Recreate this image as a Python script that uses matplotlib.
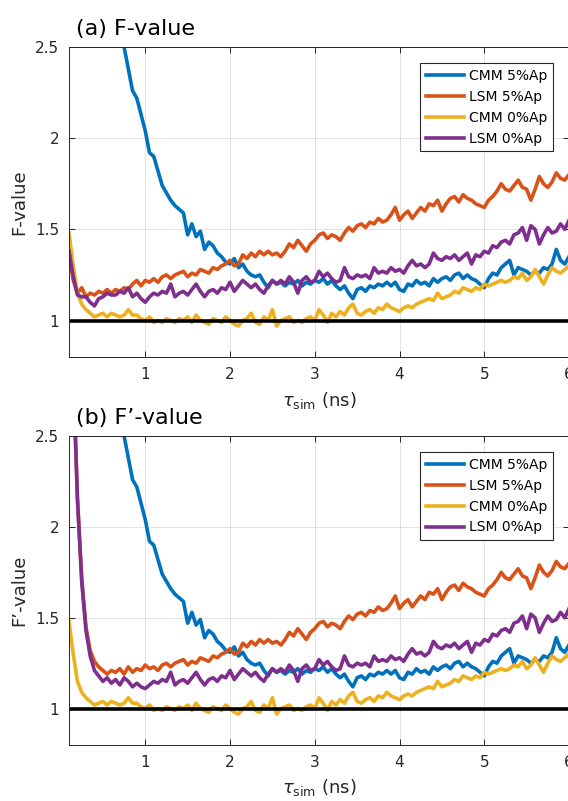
import numpy as np
import matplotlib
matplotlib.use('Agg')
import matplotlib.pyplot as plt

# tau_sim grid (ns), 0.10 ... 6.00 step 0.05
tau = np.round(np.arange(0.10, 6.001, 0.05), 2)

# F-value curves (10 values per row)
cmm5 = [6.0, 5.5, 5.0, 4.6, 4.2, 3.9, 3.6, 3.4, 3.2, 3.0,
        2.85, 2.72, 2.60, 2.50, 2.38, 2.26, 2.22, 2.13, 2.04, 1.92,
        1.90, 1.82, 1.74, 1.70, 1.66, 1.63, 1.61, 1.59, 1.47, 1.53,
        1.46, 1.49, 1.39, 1.43, 1.41, 1.37, 1.35, 1.32, 1.31, 1.34,
        1.29, 1.31, 1.27, 1.25, 1.24, 1.25, 1.21, 1.18, 1.22, 1.20,
        1.21, 1.19, 1.21, 1.20, 1.22, 1.19, 1.21, 1.20, 1.22, 1.21,
        1.23, 1.20, 1.22, 1.19, 1.17, 1.19, 1.15, 1.12, 1.17, 1.18,
        1.16, 1.19, 1.18, 1.20, 1.19, 1.21, 1.19, 1.21, 1.17, 1.16,
        1.20, 1.19, 1.22, 1.20, 1.21, 1.19, 1.23, 1.21, 1.23, 1.24,
        1.22, 1.25, 1.26, 1.23, 1.25, 1.23, 1.22, 1.20, 1.18, 1.23,
        1.26, 1.25, 1.29, 1.31, 1.33, 1.25, 1.29, 1.28, 1.27, 1.25,
        1.27, 1.26, 1.29, 1.28, 1.31, 1.39, 1.33, 1.31, 1.35]

lsm5 = [1.37, 1.22, 1.15, 1.18, 1.13, 1.15, 1.14, 1.16, 1.15, 1.17,
        1.15, 1.17, 1.16, 1.18, 1.17, 1.20, 1.22, 1.19, 1.22, 1.21,
        1.23, 1.21, 1.24, 1.25, 1.23, 1.25, 1.26, 1.27, 1.24, 1.26,
        1.25, 1.28, 1.27, 1.26, 1.29, 1.28, 1.30, 1.31, 1.33, 1.30,
        1.31, 1.36, 1.34, 1.37, 1.35, 1.38, 1.36, 1.38, 1.36, 1.37,
        1.35, 1.38, 1.42, 1.40, 1.44, 1.41, 1.38, 1.42, 1.44, 1.47,
        1.48, 1.45, 1.47, 1.46, 1.44, 1.48, 1.51, 1.49, 1.52, 1.53,
        1.51, 1.54, 1.53, 1.56, 1.54, 1.55, 1.58, 1.62, 1.55, 1.58,
        1.60, 1.56, 1.59, 1.62, 1.60, 1.64, 1.63, 1.66, 1.60, 1.64,
        1.67, 1.68, 1.65, 1.69, 1.67, 1.66, 1.64, 1.63, 1.62, 1.66,
        1.68, 1.71, 1.75, 1.72, 1.71, 1.74, 1.77, 1.73, 1.72, 1.66,
        1.72, 1.79, 1.75, 1.73, 1.76, 1.81, 1.78, 1.77, 1.80]

cmm0 = [1.48, 1.30, 1.15, 1.09, 1.06, 1.04, 1.02, 1.03, 1.04, 1.02,
        1.04, 1.03, 1.02, 1.03, 1.06, 1.03, 1.03, 1.01, 1.00, 1.02,
        0.99, 1.00, 0.99, 1.01, 1.00, 0.99, 1.01, 1.00, 1.02, 0.99,
        1.03, 1.00, 0.99, 0.98, 1.01, 1.00, 0.99, 1.02, 1.00, 0.98,
        0.97, 1.00, 1.01, 1.04, 0.99, 0.98, 1.02, 1.00, 1.06, 0.97,
        1.00, 1.01, 1.02, 0.99, 1.00, 0.99, 1.01, 1.02, 1.00, 1.06,
        1.03, 0.99, 1.04, 1.02, 1.05, 1.03, 1.07, 1.09, 1.04, 1.03,
        1.05, 1.06, 1.04, 1.07, 1.06, 1.09, 1.07, 1.06, 1.05, 1.07,
        1.08, 1.07, 1.09, 1.10, 1.11, 1.12, 1.11, 1.15, 1.12, 1.13,
        1.14, 1.16, 1.15, 1.18, 1.17, 1.16, 1.18, 1.17, 1.20, 1.19,
        1.20, 1.21, 1.22, 1.21, 1.22, 1.24, 1.23, 1.26, 1.22, 1.24,
        1.28, 1.24, 1.20, 1.25, 1.29, 1.27, 1.26, 1.28, 1.30]

lsm0 = [1.38, 1.24, 1.14, 1.13, 1.13, 1.10, 1.08, 1.12, 1.13, 1.15,
        1.14, 1.14, 1.16, 1.15, 1.18, 1.13, 1.15, 1.12, 1.10, 1.13,
        1.15, 1.14, 1.16, 1.15, 1.20, 1.13, 1.15, 1.16, 1.14, 1.17,
        1.20, 1.16, 1.13, 1.16, 1.17, 1.15, 1.18, 1.17, 1.21, 1.16,
        1.19, 1.22, 1.20, 1.18, 1.20, 1.17, 1.15, 1.19, 1.22, 1.20,
        1.22, 1.20, 1.24, 1.21, 1.15, 1.22, 1.24, 1.21, 1.22, 1.27,
        1.24, 1.26, 1.23, 1.21, 1.22, 1.29, 1.24, 1.23, 1.25, 1.24,
        1.25, 1.23, 1.29, 1.26, 1.27, 1.26, 1.29, 1.27, 1.28, 1.26,
        1.30, 1.33, 1.30, 1.31, 1.29, 1.31, 1.37, 1.34, 1.33, 1.35,
        1.34, 1.36, 1.33, 1.35, 1.37, 1.31, 1.36, 1.35, 1.38, 1.37,
        1.41, 1.40, 1.43, 1.44, 1.42, 1.47, 1.48, 1.51, 1.44, 1.52,
        1.50, 1.42, 1.47, 1.51, 1.48, 1.49, 1.53, 1.50, 1.55]

# F'-value: the LSM curves differ only at the start (tau 0.10 ... 1.05)
lsm5_head = [4.50, 2.85, 2.15, 1.72, 1.45, 1.32, 1.26, 1.23, 1.21, 1.19,
             1.21, 1.20, 1.22, 1.19, 1.23, 1.20, 1.22, 1.21, 1.24, 1.22]
lsm0_head = [4.50, 2.85, 2.15, 1.70, 1.43, 1.29, 1.21, 1.18, 1.15, 1.17,
             1.14, 1.16, 1.13, 1.17, 1.15, 1.12, 1.14, 1.12, 1.11, 1.13]

labels = ['CMM 5%Ap', 'LSM 5%Ap', 'CMM 0%Ap', 'LSM 0%Ap']
colors = ['#0072BD', '#D95319', '#EDB120', '#7E2F8E']
ref_level = 1.0

n = len(lsm5_head)
f_sets = [cmm5, lsm5, cmm0, lsm0]
fp_sets = [cmm5, lsm5_head + lsm5[n:], cmm0, lsm0_head + lsm0[n:]]

W, H = 568, 801
fig = plt.figure(figsize=(W / 100, H / 100), dpi=100)
dark = '#262626'


def panel(rect, series, title, ylab, title_y):
    ax = fig.add_axes(rect)
    for ys, lab, c in zip(series, labels, colors):
        ax.plot(tau, ys, color=c, lw=2.6, label=lab)
    ax.axhline(ref_level, color='k', lw=2.6)
    ax.set_xlim(0.1, 6)
    ax.set_ylim(0.8, 2.5)
    ax.set_xticks([1, 2, 3, 4, 5, 6])
    ax.set_yticks([1, 1.5, 2, 2.5])
    ax.set_yticklabels(['1', '1.5', '2', '2.5'])
    ax.grid(True, color=dark, alpha=0.13, lw=0.7)
    ax.tick_params(direction='in', top=True, right=True, length=4,
                   width=0.7, colors=dark, labelsize=11, pad=7)
    for s in ax.spines.values():
        s.set_color(dark)
        s.set_linewidth(0.7)
    ax.set_ylabel(ylab, fontsize=13, color=dark)
    ax.yaxis.set_label_coords(-0.082, 0.5)
    ax.set_xlabel(r'$\tau_{\rm sim}$ (ns)', fontsize=13, color=dark)
    ax.xaxis.set_label_coords(0.5, -0.105)
    leg = ax.legend(loc='upper right', bbox_to_anchor=(0.968, 0.948),
                    borderaxespad=0, fontsize=10, fancybox=False,
                    framealpha=1, edgecolor=dark, handlelength=2.7,
                    handletextpad=0.4, labelspacing=0.5)
    leg.get_frame().set_linewidth(0.8)
    fig.text(76 / W, 1 - title_y / H, title, fontsize=16, va='baseline')
    return ax


panel([69 / W, 1 - 357 / H, 500 / W, 310 / H], f_sets,
      '(a) F-value', 'F-value', 35)
panel([69 / W, 1 - 745 / H, 500 / W, 309 / H], fp_sets,
      '(b) F\u2019-value', 'F\u2019-value', 424)

fig.savefig('out.png', dpi=100)
